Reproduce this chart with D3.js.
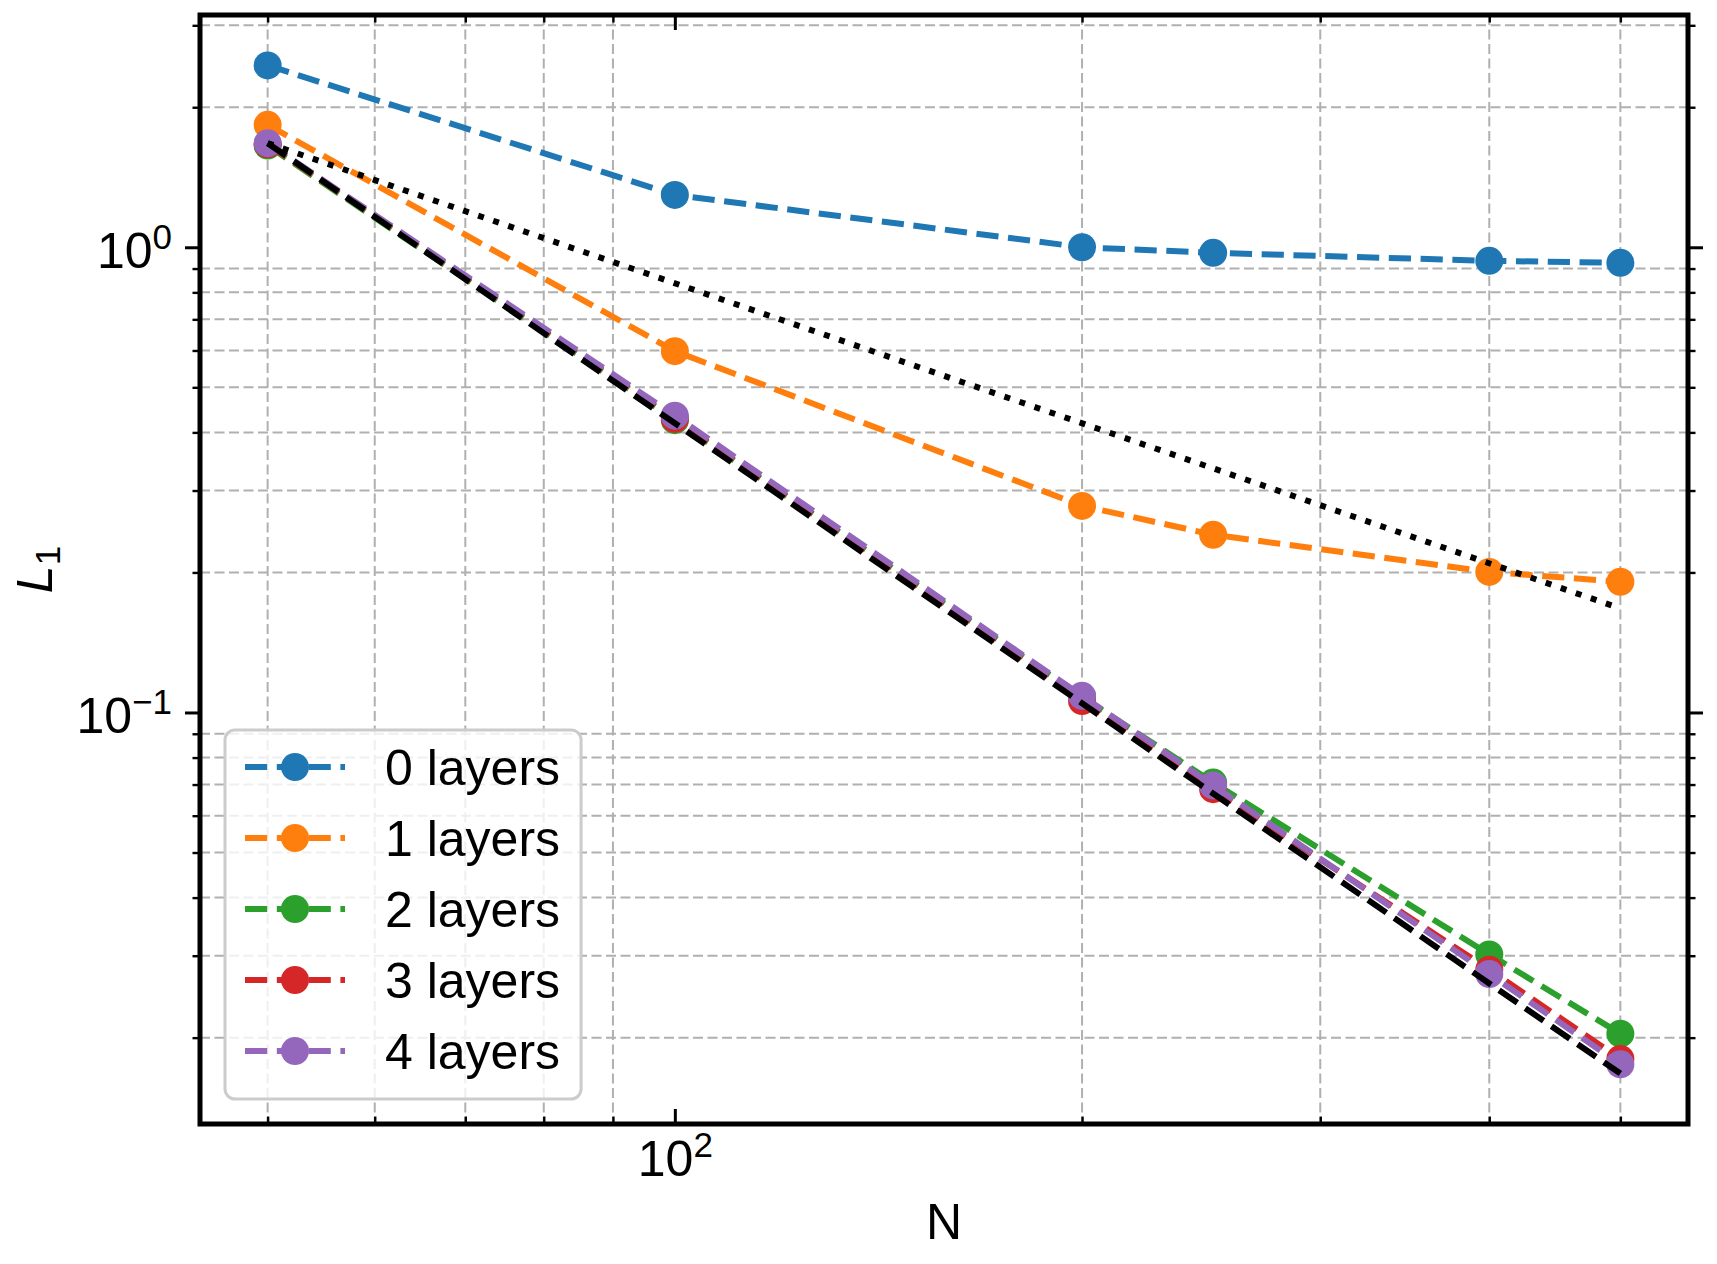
<!DOCTYPE html>
<html>
<head>
<meta charset="utf-8">
<script src="https://cdn.jsdelivr.net/npm/d3@7"></script>
<style>
  body { margin: 0; background: #fff; }
  svg { display: block; font-family: "Liberation Sans", Arial, Helvetica, sans-serif; }
</style>
</head>
<body>
<svg id="chart"></svg>
<script>
// grid size N (x axis)
const nValues = [50, 100, 200, 250, 400, 500];
const layerLabels = ["0 layers", "1 layers", "2 layers", "3 layers", "4 layers"];

// L1 error per number of layers
const l1Layers0 = [2.46, 1.296, 1.0, 0.973, 0.935, 0.926];
const l1Layers1 = [1.833, 0.598, 0.278, 0.241, 0.2005, 0.191];
const l1Layers2 = [1.655, 0.425, 0.108, 0.0707, 0.0302, 0.0204];
const l1Layers3 = [1.665, 0.428, 0.1058, 0.0684, 0.028, 0.018];
const l1Layers4 = [1.674, 0.4346, 0.1086, 0.0697, 0.0274, 0.01753];

// reference slopes (black), endpoints only
const refN = [50, 500];
const refFirstOrder = [1.674, 0.1674];
const refSecondOrder = [1.674, 0.01674];

class LogLineChart {
  /**
   * @param {Object} _config
   * @param {Array} _series  series with {label, values}
   * @param {Array} _refs    reference lines with {dash, values}
   */
  constructor(_config, _series, _refs) {
    this.config = {
      parentElement: _config.parentElement,
      containerWidth: _config.containerWidth || 1717,
      containerHeight: _config.containerHeight || 1264,
      margin: _config.margin || { top: 15, right: 29, bottom: 140, left: 200 },
      fontSize: _config.fontSize || 50,
      lineWidth: _config.lineWidth || 6,
    };
    this.series = _series;
    this.refs = _refs;
    this.initVis();
  }

  initVis() {
    let vis = this;
    const m = vis.config.margin;

    vis.width = vis.config.containerWidth - m.left - m.right;
    vis.height = vis.config.containerHeight - m.top - m.bottom;

    vis.colorScale = d3
      .scaleOrdinal()
      .range(d3.schemeCategory10)
      .domain(layerLabels);

    vis.xScale = d3.scaleLog().range([0, vis.width]);
    vis.yScale = d3.scaleLog().range([vis.height, 0]);

    vis.svg = d3
      .select(vis.config.parentElement)
      .attr("width", vis.config.containerWidth)
      .attr("height", vis.config.containerHeight);

    vis.svg
      .append("rect")
      .attr("width", vis.config.containerWidth)
      .attr("height", vis.config.containerHeight)
      .attr("fill", "#fff");

    vis.chart = vis.svg
      .append("g")
      .attr("transform", `translate(${m.left},${m.top})`);

    vis.chart
      .append("clipPath")
      .attr("id", "plot-clip")
      .append("rect")
      .attr("width", vis.width)
      .attr("height", vis.height);

    vis.gridG = vis.chart.append("g").attr("class", "grid");
    vis.linesG = vis.chart.append("g").attr("clip-path", "url(#plot-clip)");
    vis.axesG = vis.chart.append("g").attr("class", "axes");
    vis.legendG = vis.chart.append("g").attr("class", "legend");

    // axis titles
    vis.chart
      .append("text")
      .attr("class", "axis-title")
      .attr("x", vis.width / 2)
      .attr("y", 1224)
      .attr("text-anchor", "middle")
      .attr("font-size", vis.config.fontSize)
      .text("N");

    const yTitle = vis.chart
      .append("text")
      .attr("class", "axis-title")
      .attr("transform", `translate(-148,${vis.height / 2}) rotate(-90)`)
      .attr("text-anchor", "middle")
      .attr("font-size", vis.config.fontSize);
    yTitle.append("tspan").attr("font-style", "italic").text("L");
    yTitle.append("tspan").attr("dy", 8).attr("font-size", 35).text("1");
  }

  updateVis() {
    let vis = this;

    // 5% padding in log space, like matplotlib's autoscale
    const padLog = (ext) => {
      const a = Math.log10(ext[0]);
      const b = Math.log10(ext[1]);
      const p = (b - a) * 0.05;
      return [Math.pow(10, a - p), Math.pow(10, b + p)];
    };

    const allPts = vis.series
      .concat(vis.refs)
      .flatMap((s) => s.values);

    vis.xValue = (d) => d.n;
    vis.yValue = (d) => d.v;

    vis.xScale.domain(padLog(d3.extent(allPts, vis.xValue)));
    vis.yScale.domain(padLog(d3.extent(allPts, vis.yValue)));

    vis.renderVis();
  }

  renderVis() {
    let vis = this;
    const lw = vis.config.lineWidth;
    const fs = vis.config.fontSize;
    const dashed = `${3.7 * lw},${1.6 * lw}`;
    const dotted = `${1 * lw},${1.65 * lw}`;

    const isMajor = (d) =>
      Math.abs(Math.log10(d) - Math.round(Math.log10(d))) < 1e-9;

    const xTicks = vis.xScale.ticks();
    const yTicks = vis.yScale.ticks();
    const xMajor = xTicks.filter(isMajor);
    const xMinor = xTicks.filter((d) => !isMajor(d));
    const yMajor = yTicks.filter(isMajor);
    const yMinor = yTicks.filter((d) => !isMajor(d));

    // minor grid only
    vis.gridG
      .selectAll(".vgrid")
      .data(xMinor)
      .join("line")
      .attr("class", "vgrid")
      .attr("x1", (d) => vis.xScale(d))
      .attr("x2", (d) => vis.xScale(d))
      .attr("y1", 0)
      .attr("y2", vis.height);

    vis.gridG
      .selectAll(".hgrid")
      .data(yMinor)
      .join("line")
      .attr("class", "hgrid")
      .attr("x1", 0)
      .attr("x2", vis.width)
      .attr("y1", (d) => vis.yScale(d))
      .attr("y2", (d) => vis.yScale(d));

    vis.gridG
      .selectAll("line")
      .attr("stroke", "#b0b0b0")
      .attr("stroke-width", 2)
      .attr("stroke-dasharray", "10,4.5");

    const line = d3
      .line()
      .x((d) => vis.xScale(vis.xValue(d)))
      .y((d) => vis.yScale(vis.yValue(d)));

    // each series: line then its markers
    vis.series.forEach((s) => {
      const g = vis.linesG.append("g").attr("class", "series");
      const c = vis.colorScale(s.label);
      g.append("path")
        .datum(s.values)
        .attr("d", line)
        .attr("fill", "none")
        .attr("stroke", c)
        .attr("stroke-width", lw)
        .attr("stroke-dasharray", dashed);
      g.selectAll("circle")
        .data(s.values)
        .join("circle")
        .attr("cx", (d) => vis.xScale(vis.xValue(d)))
        .attr("cy", (d) => vis.yScale(vis.yValue(d)))
        .attr("r", 14)
        .attr("fill", c);
    });

    // reference slopes
    vis.linesG
      .selectAll(".ref")
      .data(vis.refs)
      .join("path")
      .attr("class", "ref")
      .attr("d", (d) => line(d.values))
      .attr("fill", "none")
      .attr("stroke", "#000")
      .attr("stroke-width", lw)
      .attr("stroke-dasharray", (d) => (d.dash === "dotted" ? dotted : dashed));

    // axes
    const powLabel = function (d) {
      const t = d3.select(this);
      const e = Math.round(Math.log10(d));
      t.text(null);
      t.append("tspan").text("10");
      t.append("tspan")
        .attr("dy", -19)
        .attr("font-size", 35)
        .text(e < 0 ? "\u2212" + -e : e);
    };

    const finish = (g, w) => {
      g.attr("font-size", null).attr("font-family", null);
      g.select(".domain").remove();
      g.selectAll(".tick line").attr("stroke", "#000").attr("stroke-width", w);
    };

    const bottomMinor = vis.axesG
      .append("g")
      .attr("transform", `translate(0,${vis.height})`)
      .call(d3.axisBottom(vis.xScale).tickValues(xMinor).tickSize(-7.5).tickFormat(""));
    finish(bottomMinor, 2.4);

    const bottomMajor = vis.axesG
      .append("g")
      .attr("transform", `translate(0,${vis.height})`)
      .call(d3.axisBottom(vis.xScale).tickValues(xMajor).tickSize(-15));
    finish(bottomMajor, 3);
    bottomMajor
      .selectAll(".tick text")
      .attr("y", 52)
      .attr("dy", null)
      .attr("font-size", fs)
      .attr("fill", "#000")
      .each(powLabel);

    const topMinor = vis.axesG
      .append("g")
      .call(d3.axisTop(vis.xScale).tickValues(xMinor).tickSize(-7.5).tickFormat(""));
    finish(topMinor, 2.4);
    const topMajor = vis.axesG
      .append("g")
      .call(d3.axisTop(vis.xScale).tickValues(xMajor).tickSize(-15).tickFormat(""));
    finish(topMajor, 3);

    const leftMinor = vis.axesG
      .append("g")
      .call(d3.axisLeft(vis.yScale).tickValues(yMinor).tickSize(7.5).tickFormat(""));
    finish(leftMinor, 2.4);
    const leftMajor = vis.axesG
      .append("g")
      .call(d3.axisLeft(vis.yScale).tickValues(yMajor).tickSize(15));
    finish(leftMajor, 3);
    leftMajor
      .selectAll(".tick text")
      .attr("x", -28)
      .attr("y", 20)
      .attr("dy", null)
      .attr("font-size", fs)
      .attr("fill", "#000")
      .each(powLabel);

    const rightMinor = vis.axesG
      .append("g")
      .attr("transform", `translate(${vis.width},0)`)
      .call(d3.axisRight(vis.yScale).tickValues(yMinor).tickSize(7.5).tickFormat(""));
    finish(rightMinor, 2.4);
    const rightMajor = vis.axesG
      .append("g")
      .attr("transform", `translate(${vis.width},0)`)
      .call(d3.axisRight(vis.yScale).tickValues(yMajor).tickSize(15).tickFormat(""));
    finish(rightMajor, 3);

    // spines
    vis.axesG
      .append("rect")
      .attr("width", vis.width)
      .attr("height", vis.height)
      .attr("fill", "none")
      .attr("stroke", "#000")
      .attr("stroke-width", 5);

    // legend, lower left
    const rowH = 71;
    const padTop = 37;
    const padBottom = 48;
    const legH = padTop + rowH * (vis.series.length - 1) + padBottom;
    const box = vis.legendG
      .attr("transform", `translate(25,${vis.height - 25 - legH})`)
      .append("rect")
      .attr("height", legH)
      .attr("rx", 10)
      .attr("fill", "#fff")
      .attr("fill-opacity", 0.8)
      .attr("stroke", "#cccccc")
      .attr("stroke-width", 3);

    const rows = vis.legendG
      .selectAll(".legend-row")
      .data(vis.series)
      .join("g")
      .attr("class", "legend-row")
      .attr("transform", (d, i) => `translate(0,${padTop + i * rowH})`);

    rows
      .append("line")
      .attr("x1", 20)
      .attr("x2", 120)
      .attr("stroke", (d) => vis.colorScale(d.label))
      .attr("stroke-width", lw)
      .attr("stroke-dasharray", dashed);

    rows
      .append("circle")
      .attr("cx", 70)
      .attr("r", 14)
      .attr("fill", (d) => vis.colorScale(d.label));

    rows
      .append("text")
      .attr("x", 160)
      .attr("y", 18)
      .attr("font-size", fs)
      .attr("fill", "#000")
      .text((d) => d.label);

    let maxW = 0;
    rows.selectAll("text").each(function () {
      maxW = Math.max(maxW, this.getComputedTextLength());
    });
    box.attr("width", 160 + maxW + 21);
  }
}

const seriesValues = [l1Layers0, l1Layers1, l1Layers2, l1Layers3, l1Layers4];
const series = layerLabels.map((label, i) => ({
  label: label,
  values: nValues.map((n, j) => ({ n: n, v: seriesValues[i][j] })),
}));
const refs = [
  { dash: "dotted", values: refN.map((n, j) => ({ n: n, v: refFirstOrder[j] })) },
  { dash: "dashed", values: refN.map((n, j) => ({ n: n, v: refSecondOrder[j] })) },
];

const chart = new LogLineChart({ parentElement: "#chart" }, series, refs);
chart.updateVis();
</script>
</body>
</html>
